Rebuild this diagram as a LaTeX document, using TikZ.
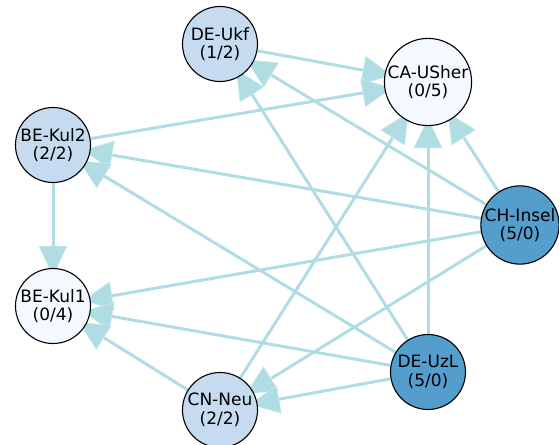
\documentclass[tikz,border=0pt]{standalone}
\usepackage{fontspec}
\setmainfont{DejaVu Sans}
\usetikzlibrary{arrows.meta}
\pgfdeclarelayer{background}
\pgfsetlayers{background,main}
\definecolor{edgeblue}{RGB}{176,221,228}
\definecolor{palefill}{RGB}{198,219,239}
\definecolor{whitefill}{RGB}{244,249,255}
\definecolor{darkfill}{RGB}{83,158,205}
\tikzset{
  site/.style={circle, draw=black, line width=1.1pt, minimum size=75pt, inner sep=0pt,
    align=center, font=\fontsize{17}{18.5}\selectfont},
  lightsite/.style={site, fill=palefill},
  whitesite/.style={site, fill=whitefill},
  darksite/.style={site, fill=darkfill},
  flow/.style={draw=edgeblue, line width=3pt,
    -{Triangle[length=30pt,width=29pt,fill=edgeblue,color=white!45!edgeblue,line width=0.5pt]},
    shorten >=-8pt}
}
\begin{document}
\begin{tikzpicture}[x=1pt,y=-1pt]
\useasboundingbox (0,0) rectangle (559,444);
\node[lightsite] (ukf) at (220,44) {DE-Ukf\\(1/2)};
\node[whitesite] (usher) at (428,82) {CA-USher\\(0/5)};
\node[lightsite] (kul2) at (53,145) {BE-Kul2\\(2/2)};
\node[whitesite] (kul1) at (53,306) {BE-Kul1\\(0/4)};
\node[darksite] (insel) at (520,225) {CH-Insel\\(5/0)};
\node[darksite] (uzl) at (428,372) {DE-UzL\\(5/0)};
\node[lightsite] (neu) at (220,410) {CN-Neu\\(2/2)};
\begin{pgfonlayer}{background}
\draw[flow] (ukf) -- (usher);
\draw[flow] (kul2) -- (usher);
\draw[flow] (insel) -- (usher);
\draw[flow] (uzl) -- (usher);
\draw[flow] (neu) -- (usher);
\draw[flow] (insel) -- (ukf);
\draw[flow] (uzl) -- (ukf);
\draw[flow] (insel) -- (kul2);
\draw[flow] (uzl) -- (kul2);
\draw[flow] (kul2) -- (kul1);
\draw[flow] (insel) -- (kul1);
\draw[flow] (uzl) -- (kul1);
\draw[flow] (neu) -- (kul1);
\draw[flow] (insel) -- (neu);
\draw[flow] (uzl) -- (neu);
\end{pgfonlayer}
\end{tikzpicture}
\end{document}
